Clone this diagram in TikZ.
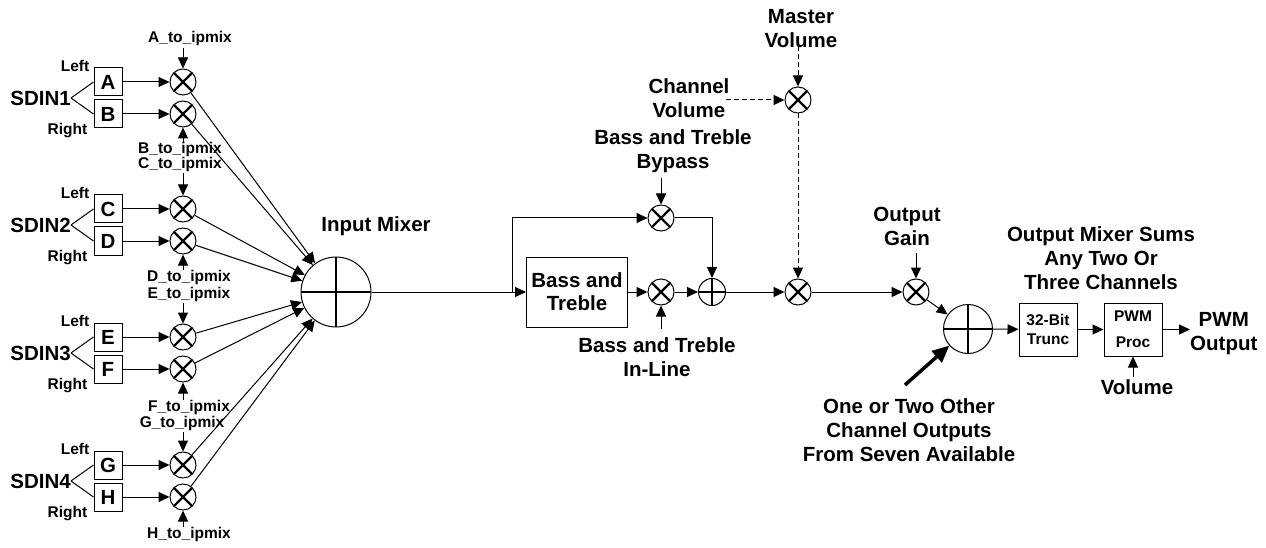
\documentclass[tikz,border=0pt]{standalone}
\usepackage{fontspec}
\setmainfont{Liberation Sans}
\usetikzlibrary{arrows.meta}
\begin{document}
\begin{tikzpicture}[x=1pt,y=-1pt,
  big/.style={font=\fontsize{20.5}{24}\selectfont\bfseries, align=center, inner sep=0pt},
  small/.style={font=\fontsize{15.5}{15}\selectfont\bfseries, align=center, inner sep=0pt},
  ln/.style={line width=1pt},
  arr/.style={ln, -{Triangle[length=11pt,width=10pt]}},
  dsh/.style={arr, dash pattern=on 5pt off 3pt},
  thickarr/.style={line width=3.5pt, -{Triangle[length=17pt,width=15pt]}},
  mulnode/.style={circle, draw, line width=1pt, minimum size=26pt, inner sep=0pt,
    path picture={\draw[line width=2.4pt] (path picture bounding box.center) +(45:16) -- +(225:16)
      (path picture bounding box.center) +(135:16) -- +(315:16);}},
  adder/.style={circle, draw, line width=1pt, minimum size=#1, inner sep=0pt,
    path picture={\draw[line width=2.2pt] (path picture bounding box.north) -- (path picture bounding box.south)
      (path picture bounding box.west) -- (path picture bounding box.east);}},
  letterbox/.style={draw, line width=1pt, minimum width=28pt, minimum height=28pt, inner sep=0pt,
    font=\fontsize{20.5}{24}\selectfont\bfseries},
  blockbox/.style={draw, line width=1pt, inner sep=0pt, align=center},
]
\useasboundingbox (0,0) rectangle (1266,548);

% input mixer
\node[adder=70pt] (mix) at (336,292) {};
\node[big] (mixl) at (376,226) {Input Mixer};

% input groups
\foreach \n/\yy/\a/\b in {1/82/A/B, 2/209/C/D, 3/337/E/F, 4/465/G/H} {
  \node[letterbox] (\a) at (108,\yy) {\a};
  \node[letterbox] (\b) at (108,\yy+32) {\b};
  \node[big, anchor=east] (sd\n) at (71,\yy+16) {SDIN\n};
  \draw[ln] (sd\n.east) -- (\a.west);
  \draw[ln] (sd\n.east) -- (\b.west);
  \node[small, anchor=base east] (lf\n) at ([xshift=-4pt,yshift=-4pt]\a.north west) {Left};
  \node[small, anchor=base east] (rt\n) at ([xshift=-6pt,yshift=-6pt]\b.south west) {Right};
  \node[mulnode] (m\a) at (183,\yy) {};
  \node[mulnode] (m\b) at (183,\yy+32) {};
  \draw[arr] (\a) -- (m\a);
  \draw[arr] (\b) -- (m\b);
  \draw[arr] (m\a) -- (mix);
  \draw[arr] (m\b) -- (mix);
}

% to_ipmix labels
\node[small] (tA) at (190,38) {A\_to\_ipmix};
\node[small] (tB) at (180,149) {B\_to\_ipmix};
\node[small] (tC) at (180,164) {C\_to\_ipmix};
\node[small] (tD) at (189,277) {D\_to\_ipmix};
\node[small] (tE) at (189,294) {E\_to\_ipmix};
\node[small] (tF) at (189,407) {F\_to\_ipmix};
\node[small] (tG) at (182,423) {G\_to\_ipmix};
\node[small] (tH) at (189,534) {H\_to\_ipmix};
\coordinate (cA) at (183,48);
\coordinate (cB) at (183,142);
\coordinate (cC) at (183,173);
\coordinate (cD) at (183,270);
\coordinate (cE) at (183,303);
\coordinate (cF) at (183,400);
\coordinate (cG) at (183,432);
\coordinate (cH) at (183,527);
\foreach \l in {A,B,C,D,E,F,G,H} { \draw[arr] (c\l) -- (m\l); }

% bass and treble section
\coordinate (br) at (512,292);
\node[blockbox, minimum width=101pt, minimum height=70pt, font=\fontsize{20.5}{23}\selectfont\bfseries] (bt) at (577,292) {Bass and\\Treble};
\node[mulnode] (mInl) at (661,292) {};
\node[mulnode] (mByp) at (661,218) {};
\node[adder=27pt] (sum1) at (712,292) {};
\draw[arr] (mix) -- (bt);
\draw[arr] (br) |- (mByp);
\draw[arr] (bt) -- (mInl);
\draw[arr] (mInl) -- (sum1);
\draw[arr] (mByp) -| (sum1);
\node[big] (bypl) at (673,151) {Bass and Treble\\Bypass};
\coordinate (bypA) at (661,178);
\draw[arr] (bypA) -- (mByp);
\node[big] (inll) at (657,357) {Bass and Treble\\In-Line};
\coordinate (inlA) at (661,329);
\draw[arr] (inlA) -- (mInl);

% volume
\node[mulnode] (mVol) at (798,292) {};
\node[mulnode] (mMas) at (798,100) {};
\node[big] (masl) at (801,29) {Master\\Volume};
\node[big] (chl) at (689,98) {Channel\\Volume};
\coordinate (masA) at (798,46);
\coordinate (chA) at (726,100);
\draw[dsh] (masA) -- (mMas);
\draw[dsh] (chA) -- (mMas);
\draw[dsh] (mMas) -- (mVol);
\draw[arr] (sum1) -- (mVol);

% output gain
\node[mulnode] (mGain) at (916,292) {};
\node[big] (gainl) at (907,226) {Output\\Gain};
\coordinate (gainA) at (916,253);
\draw[arr] (gainA) -- (mGain);
\draw[arr] (mVol) -- (mGain);

% output mixer
\node[adder=49pt] (omix) at (968,329) {};
\draw[arr] (mGain) -- (omix);
\coordinate (othA) at (905,385);
\draw[thickarr] (othA) -- (omix);
\node[big] (othl) at (909,430) {One or Two Other\\Channel Outputs\\From Seven Available};
\node[big] (omixl) at (1101,258.5) {Output Mixer Sums\\Any Two Or\\Three Channels};

% trunc and pwm
\node[blockbox, minimum width=58pt, minimum height=53pt, font=\fontsize{15.5}{19}\selectfont\bfseries] (trunc) at (1048,329.5) {32-Bit\\Trunc};
\node[blockbox, minimum width=58pt, minimum height=53pt, font=\fontsize{15.5}{19}\selectfont\bfseries] (pwm) at (1133,329.5) {PWM\\[7pt]Proc};
\draw[arr] (omix) -- (trunc);
\draw[arr] (trunc) -- (pwm);
\node[big, anchor=west] (pwmo) at (1190,333.5) {PWM\\Output};
\draw[arr] (pwm.east) -- (pwmo.west |- pwm.east);
\node[big] (voll) at (1137,387) {Volume};
\coordinate (volA) at (1133,377);
\draw[arr] (volA) -- (pwm);
\end{tikzpicture}
\end{document}
